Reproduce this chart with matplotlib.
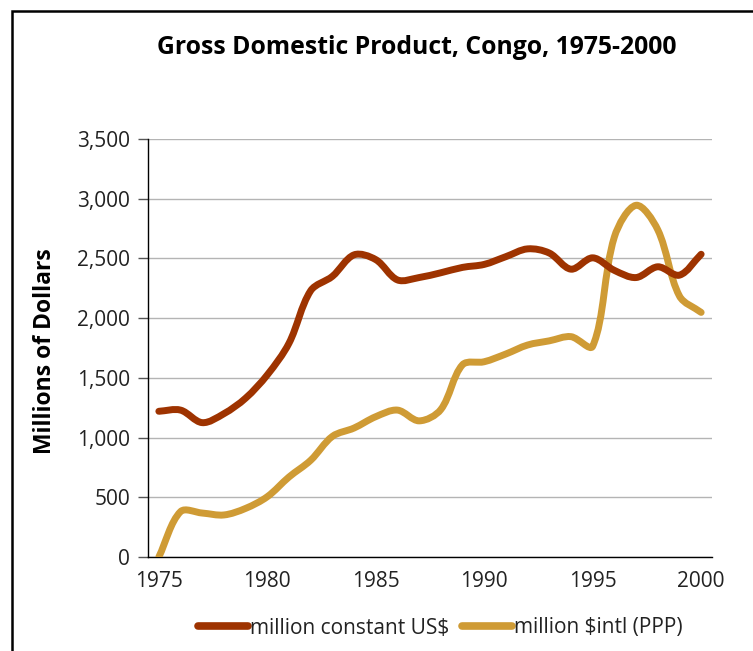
import matplotlib
matplotlib.use("Agg")
import matplotlib.pyplot as plt
import numpy as np
from matplotlib.path import Path
from matplotlib.patches import PathPatch, Rectangle
from matplotlib.lines import Line2D
from matplotlib.ticker import FuncFormatter

years = list(range(1975, 2001))
constant_usd = [1220, 1230, 1125, 1200, 1330, 1525, 1790, 2230, 2350, 2530, 2490,
                2320, 2340, 2380, 2425, 2450, 2515, 2580, 2545, 2410, 2505, 2400,
                2340, 2430, 2360, 2535]
intl_ppp = [0, 380, 368, 352, 407, 505, 670, 810, 1010, 1080, 1175, 1230, 1140,
            1235, 1610, 1635, 1700, 1775, 1810, 1845, 1765, 2680, 2945, 2740,
            2185, 2048]
series_labels = ["million constant US$", "million $intl (PPP)"]
title = "Gross Domestic Product, Congo, 1975-2000"
ylabel = "Millions of Dollars"

RED = "#9E3300"
GOLD = "#CF9B35"
FONT = "Open Sans"
plt.rcParams["font.family"] = [FONT, "DejaVu Sans"]

fig = plt.figure(figsize=(7.53, 6.51), dpi=100)
ax = fig.add_axes([148 / 753, 94 / 651, 564 / 753, 418 / 651])
ax.set_xlim(1974.5, 2000.5)
ax.set_ylim(0, 3500)

def smooth_path(xs, ys):
    # Excel-style smoothing computed in display space
    pts = ax.transData.transform(np.column_stack([xs, ys]).astype(float))
    n = len(pts)
    verts = [pts[0]]
    codes = [Path.MOVETO]
    for i in range(n - 1):
        p0 = pts[i - 1] if i > 0 else pts[i]
        p1 = pts[i]
        p2 = pts[i + 1]
        p3 = pts[i + 2] if i + 2 < n else pts[i + 1]
        d01 = np.linalg.norm(p1 - p0)
        d12 = np.linalg.norm(p2 - p1)
        d23 = np.linalg.norm(p3 - p2)
        r1 = d12 / (d01 + d12) if d01 + d12 > 0 else 0
        r2 = d12 / (d12 + d23) if d12 + d23 > 0 else 0
        c1 = p1 + r1 * (p2 - p0) / 3.0
        c2 = p2 - r2 * (p3 - p1) / 3.0
        verts += [c1, c2, p2]
        codes += [Path.CURVE4] * 3
    verts = ax.transData.inverted().transform(np.array(verts))
    return Path(verts, codes)

for vals, col in [(intl_ppp, GOLD), (constant_usd, RED)]:
    patch = PathPatch(smooth_path(years, vals), facecolor="none", edgecolor=col,
                      lw=5.0, capstyle="round", joinstyle="round", zorder=3)
    ax.add_patch(patch)

ax.set_yticks(np.arange(0, 3501, 500))
ax.yaxis.set_major_formatter(FuncFormatter(lambda v, p: f"{int(v):,}"))
ax.set_xticks([1975, 1980, 1985, 1990, 1995, 2000])
ax.grid(axis="y", color="#B4B4B4", lw=1.0, zorder=0)
ax.set_axisbelow(True)
for s in ["top", "right"]:
    ax.spines[s].set_visible(False)
ax.spines["left"].set_color("black")
ax.spines["left"].set_linewidth(1.0)
ax.spines["bottom"].set_color("black")
ax.spines["bottom"].set_linewidth(1.0)
ax.tick_params(axis="y", length=7, width=1, color="#555555", labelsize=15, pad=6,
               labelcolor="#222222")
ax.tick_params(axis="x", length=0, labelsize=15, pad=10, labelcolor="#222222")

fig.text(417 / 753, 1 - 48 / 651, title, ha="center", va="center",
         fontsize=17.8, fontweight="bold", color="black")
fig.text(45 / 753, 1 - 351 / 651, ylabel, ha="center", va="center", rotation=90,
         fontsize=16.5, fontweight="bold", color="black")

handles = [Line2D([0], [0], color=RED, lw=5.5, solid_capstyle="round"),
           Line2D([0], [0], color=GOLD, lw=5.5, solid_capstyle="round")]
leg = fig.legend(handles, series_labels, loc="center", bbox_to_anchor=(440 / 753, 1 - 628 / 651),
                 ncol=2, frameon=False, fontsize=15, handlelength=2.4, handletextpad=0.1,
                 columnspacing=0.6)
for t in leg.get_texts():
    t.set_color("#222222")

fig.add_artist(Rectangle((12 / 753, -0.05), 1.1, 1 - 11 / 651 + 0.05, transform=fig.transFigure,
                         fill=False, edgecolor="black", lw=1.8, zorder=10))

fig.savefig("out.png", dpi=100)
